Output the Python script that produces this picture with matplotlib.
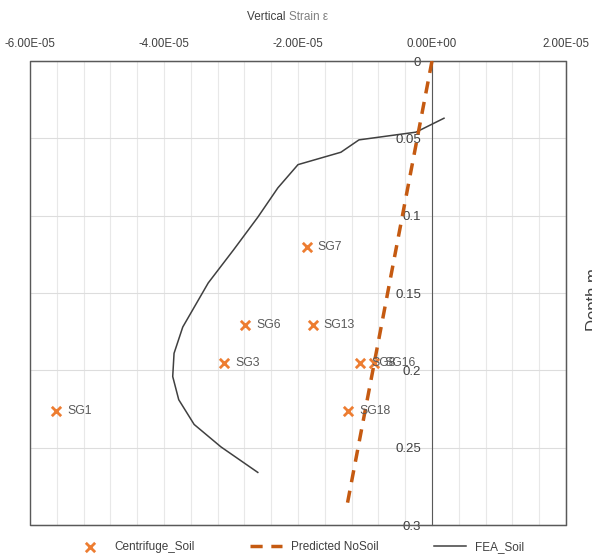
import matplotlib
matplotlib.use('Agg')
import matplotlib.pyplot as plt
from matplotlib.ticker import MultipleLocator, FuncFormatter
from matplotlib.patches import Rectangle

plt.rcParams['font.family'] = ['Liberation Sans', 'DejaVu Sans']

# 离心机试验数据（应变计）
sg_labels = ['SG1', 'SG3', 'SG6', 'SG7', 'SG13', 'SG8', 'SG16', 'SG18']
sg_strain = [-5.61e-5, -3.10e-5, -2.79e-5, -1.87e-5, -1.78e-5, -1.07e-5, -0.87e-5, -1.25e-5]
sg_depth = [0.226, 0.195, 0.171, 0.120, 0.171, 0.195, 0.195, 0.226]

# 无土预测（直线）
pred_strain = [0.0, -1.28e-5]
pred_depth = [0.0, 0.29]

# 有限元结果
fea_strain = [1.79e-6, -2.39e-6, -1.09e-5, -1.36e-5, -2.00e-5, -2.30e-5, -2.60e-5,
              -2.96e-5, -3.34e-5, -3.72e-5, -3.85e-5, -3.87e-5, -3.78e-5, -3.55e-5,
              -3.15e-5, -2.60e-5]
fea_depth = [0.037, 0.046, 0.051, 0.059, 0.067, 0.082, 0.101, 0.122, 0.1435, 0.172,
             0.189, 0.204, 0.219, 0.235, 0.2495, 0.266]

fig = plt.figure(figsize=(5.92, 5.57), dpi=100)
ax = fig.add_axes([30/592, 1-525/557, 536/592, 464/557])

ax.plot(fea_strain, fea_depth, color='#404040', lw=1.1, label='FEA_Soil', zorder=3)
ax.plot(pred_strain, pred_depth, color='#C55A11', lw=2.5, ls=(0, (3.5, 2.5)),
        label='Predicted NoSoil', zorder=4)
ax.scatter(sg_strain, sg_depth, marker='x', color='#ED7D31', s=45, lw=2,
           label='Centrifuge_Soil', zorder=5)
for lab, x, y in zip(sg_labels, sg_strain, sg_depth):
    ax.annotate(lab, (x, y), xytext=(8, 0), textcoords='offset points',
                va='center', ha='left', fontsize=8.8, color='#595959', zorder=6)

ax.set_xlim(-6e-5, 2e-5)
ax.set_ylim(0.3, 0)

ax.xaxis.tick_top()
ax.xaxis.set_major_locator(MultipleLocator(2e-5))
ax.xaxis.set_minor_locator(MultipleLocator(4e-6))
ax.xaxis.set_major_formatter(FuncFormatter(lambda v, p: '{:.2E}'.format(0.0 if abs(v) < 1e-12 else v)))
ax.yaxis.set_major_locator(MultipleLocator(0.05))
ax.yaxis.set_major_formatter(FuncFormatter(lambda v, p: '{:g}'.format(round(v, 2))))
ax.tick_params(axis='x', which='both', length=0, pad=8, labelsize=8.3, colors='#404040')
ax.tick_params(axis='y', length=0, pad=8, labelsize=9.5, colors='#404040')

ax.grid(axis='x', which='both', color='#E8E8E8', lw=0.8)
ax.grid(axis='y', which='major', color='#DDDDDD', lw=0.8)
ax.set_axisbelow(True)

# 纵轴移到 x=0 处
ax.spines['left'].set_position(('data', 0))
ax.spines['left'].set_color('#595959')
for s in ['top', 'right', 'bottom']:
    ax.spines[s].set_color('#595959')
ax.add_patch(Rectangle((0, 0), 1, 1, transform=ax.transAxes, fill=False,
                       edgecolor='#595959', lw=1, clip_on=False, zorder=2))

fig.text(289/592, 1-17/557, 'Vertical ', ha='right', va='center', fontsize=8.5, color='#404040')
fig.text(289/592, 1-17/557, 'Strain \u03b5', ha='left', va='center', fontsize=8.5, color='#808080')
fig.text(586/592, 1-300/557, 'Depth m', rotation=90, ha='left', va='center',
         fontsize=12, color='#404040')

handles, labels = ax.get_legend_handles_labels()
order = [2, 1, 0]
fig.legend([handles[i] for i in order], [labels[i] for i in order], loc='center',
           bbox_to_anchor=(299/592, 1-547/557), ncol=3, frameon=False, fontsize=8.5,
           columnspacing=4.7, handlelength=2.7, handletextpad=0.75, labelcolor='#404040',
           borderpad=0.2)

fig.savefig('out.png', dpi=100)
